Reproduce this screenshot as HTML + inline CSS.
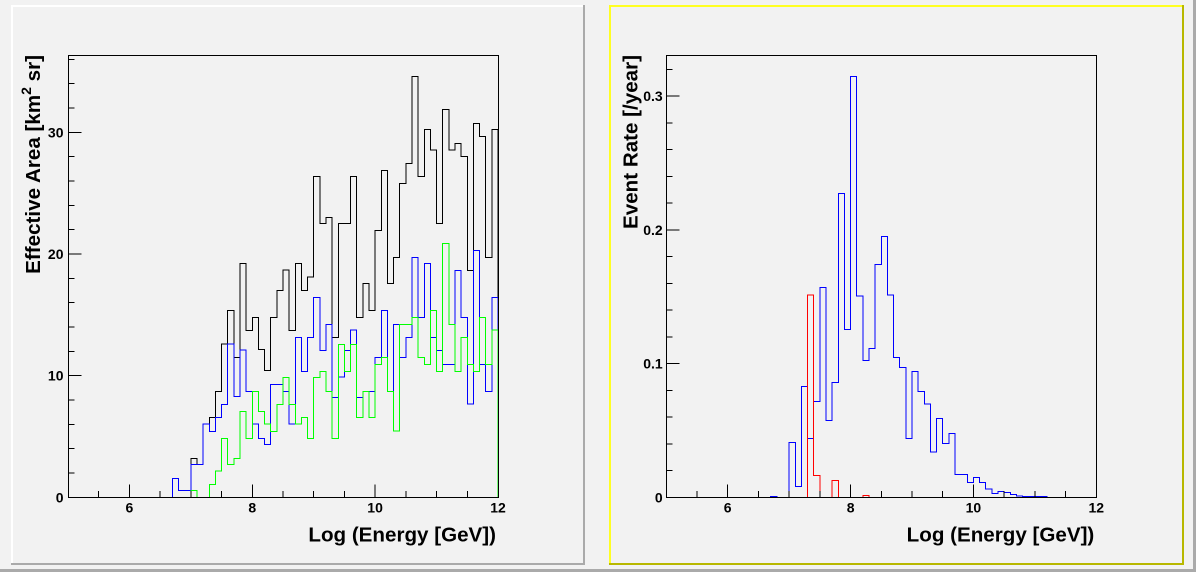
<!DOCTYPE html>
<html>
<head>
<meta charset="utf-8">
<style>
html,body{margin:0;padding:0;background:#f2f2f2;}
svg{display:block;}
text{font-family:"Liberation Sans",Arial,sans-serif;font-weight:bold;fill:#000;}
.tl{font-size:14px;}
.tt{font-size:20.6px;}
</style>
</head>
<body>
<svg width="1196" height="572" viewBox="0 0 1196 572" xmlns="http://www.w3.org/2000/svg">
<rect x="0" y="0" width="1196" height="572" fill="#f2f2f2"/>
<!-- canvas border -->
<rect x="0" y="569" width="1196" height="3" fill="#aaaaaa"/>
<rect x="1193" y="0" width="3" height="572" fill="#aaaaaa"/>

<!-- left pad border -->
<rect x="11" y="5" width="574" height="2" fill="#ffffff"/>
<rect x="11" y="5" width="2" height="560" fill="#ffffff"/>
<rect x="583" y="5" width="2" height="560" fill="#aaaaaa"/>
<rect x="11" y="563" width="574" height="2" fill="#aaaaaa"/>

<!-- right pad border (selected, yellow) -->
<rect x="609" y="5" width="575" height="2" fill="#ffff22"/>
<rect x="609" y="5" width="2" height="560" fill="#ffff22"/>
<rect x="1182" y="5" width="2" height="560" fill="#b8b800"/>
<rect x="609" y="563" width="575" height="2" fill="#b8b800"/>

<g shape-rendering="crispEdges" fill="none" stroke-width="1">
<!-- LEFT histograms -->
<path stroke="#000" d="M68,497.3 H172.4 V478.3 H178.6 V490.7 H190.9 V458.3 H197.0 V464.3 H203.1 V424 H209.3 V417.3 H215.4 V391.3 H221.6 V344 H227.7 V310.3 H233.9 V357.3 H240.0 V263.3 H246.1 V330.3 H252.3 V317.3 H258.4 V349.3 H264.6 V370.3 H270.7 V317.3 H276.9 V290.3 H283.0 V270 H289.1 V330.3 H295.3 V263.3 H301.4 V290.3 H307.6 V277 H313.7 V176.3 H319.9 V223.3 H326.0 V217.3 H332.1 V337.3 H338.3 V223.3 H350.6 V176.3 H356.7 V317.3 H362.9 V283.3 H369.0 V310.3 H375.1 V230.3 H381.3 V170.3 H387.4 V283.3 H393.6 V257.3 H399.7 V183.3 H405.9 V163.3 H412.0 V76.3 H418.1 V176.3 H424.3 V129.3 H430.4 V150 H436.6 V223.3 H442.7 V109.3 H448.9 V150 H455.0 V143.3 H461.1 V156.3 H467.3 V270.3 H473.4 V123.3 H479.6 V136.3 H485.7 V257.3 H491.9 V129.3 H498.0 V497.3"/>
<path stroke="#0000ff" d="M68,497.3 H172.4 V478.3 H178.6 V490.7 H190.9 V464.3 H203.1 V424 H209.3 V431.3 H215.4 V417.3 H221.6 V404.3 H227.7 V344 H233.9 V396.7 H240.0 V350 H246.1 V391.3 H252.3 V424 H258.4 V438.3 H264.6 V444.3 H270.7 V384.3 H283.0 V391.3 H289.1 V424 H295.3 V337.3 H301.4 V371.7 H307.6 V337.3 H313.7 V297.3 H319.9 V350.3 H326.0 V324.3 H332.1 V397.3 H338.3 V377 H344.4 V350.3 H350.6 V330 H356.7 V397.3 H362.9 V391.3 H375.1 V357.3 H381.3 V310.3 H387.4 V391.3 H393.6 V324.3 H399.7 V357.3 H405.9 V337.3 H412.0 V257.3 H418.1 V317.3 H424.3 V263.3 H430.4 V337.3 H436.6 V350.3 H442.7 V364.3 H455.0 V270.3 H461.1 V317.3 H467.3 V404 H473.4 V250.3 H479.6 V364.3 H485.7 V391.3 H491.9 V297.3 H498.0 V497.3"/>
<path stroke="#00ff00" d="M68,497.3 H190.9 V490.7 H197.0 V497.3 H209.3 V484.3 H215.4 V471 H221.6 V438.3 H227.7 V464.3 H233.9 V458.3 H240.0 V411.3 H246.1 V438.3 H252.3 V391.3 H258.4 V411.3 H264.6 V424 H270.7 V431.3 H276.9 V404.3 H283.0 V377.3 H289.1 V404.3 H295.3 V424 H301.4 V417.3 H307.6 V438.3 H313.7 V377.3 H319.9 V371.3 H326.0 V391.3 H332.1 V438.3 H338.3 V344.3 H344.4 V371.3 H350.6 V344.3 H356.7 V417.3 H362.9 V391.3 H369.0 V417.3 H375.1 V364.3 H381.3 V357.3 H387.4 V391.3 H393.6 V431 H399.7 V324.3 H412.0 V317.3 H418.1 V357.3 H424.3 V364.3 H430.4 V310.3 H436.6 V371.3 H442.7 V243.3 H448.9 V324.3 H455.0 V371.3 H461.1 V337.3 H467.3 V364.3 H473.4 V371.3 H479.6 V317.3 H485.7 V364.3 H491.9 V330 H498.0 V497.3"/>

<!-- RIGHT histograms -->
<path stroke="#0000ff" d="M666.3,497.3 H770.7 V496.3 H776.9 V497.3 H789.2 V442.3 H795.3 V486.3 H801.5 V386.3 H807.6 V438.3 H813.7 V401.3 H819.9 V287.3 H826.0 V420.3 H832.2 V382.3 H838.3 V193.3 H844.5 V329.3 H850.6 V76.3 H856.7 V296 H862.9 V360.3 H869.0 V348.3 H875.2 V264.3 H881.3 V236.3 H887.5 V295 H893.6 V357.3 H899.7 V367.3 H905.9 V438.3 H912.0 V371.3 H918.2 V391.3 H924.3 V404 H930.4 V452 H936.6 V418.3 H942.7 V443.3 H948.9 V433.3 H955.0 V474.3 H967.3 V482.3 H973.4 V477.3 H979.6 V482.3 H985.7 V489 H991.9 V493.3 H998.0 V491.3 H1004.1 V492.3 H1010.3 V494.3 H1016.4 V496 H1022.6 V496.6 H1047.1 V497.3 H1096.3"/>
<path stroke="#ff0000" d="M666.3,497.3 H807.6 V295 H813.7 V475.3 H819.9 V497.3 H832.2 V480.3 H838.3 V497.3 H862.9 V495.3 H869.0 V497.3 H1096.3"/>

<!-- frames -->
<rect x="68.5" y="55.5" width="430" height="442" stroke="#000"/>
<rect x="666.5" y="55.5" width="430" height="442" stroke="#000"/>

<!-- LEFT x ticks -->
<path stroke="#000" d="M98.7,497.5v-6.5 M129.4,497.5v-13 M160.1,497.5v-6.5 M190.9,497.5v-6.5 M221.6,497.5v-6.5 M252.3,497.5v-13 M283.0,497.5v-6.5 M313.7,497.5v-6.5 M344.4,497.5v-6.5 M375.1,497.5v-13 M405.9,497.5v-6.5 M436.6,497.5v-6.5 M467.3,497.5v-6.5"/>
<!-- LEFT y ticks -->
<path stroke="#000" d="M68.5,473.0h6 M68.5,448.6h6 M68.5,424.3h6 M68.5,400.0h6 M68.5,375.6h13 M68.5,351.3h6 M68.5,327.0h6 M68.5,302.6h6 M68.5,278.3h6 M68.5,254.0h13 M68.5,229.6h6 M68.5,205.3h6 M68.5,181.0h6 M68.5,156.6h6 M68.5,132.3h13 M68.5,108.0h6 M68.5,83.6h6 M68.5,59.3h6"/>

<!-- RIGHT x ticks -->
<path stroke="#000" d="M697.0,497.5v-6.5 M727.7,497.5v-13 M758.4,497.5v-6.5 M789.2,497.5v-6.5 M819.9,497.5v-6.5 M850.6,497.5v-13 M881.3,497.5v-6.5 M912.0,497.5v-6.5 M942.7,497.5v-6.5 M973.4,497.5v-13 M1004.1,497.5v-6.5 M1034.9,497.5v-6.5 M1065.6,497.5v-6.5"/>
<!-- RIGHT y ticks -->
<path stroke="#000" d="M666.5,470.6h6 M666.5,443.8h6 M666.5,417.1h6 M666.5,390.3h6 M666.5,363.6h13 M666.5,336.9h6 M666.5,310.1h6 M666.5,283.4h6 M666.5,256.7h6 M666.5,229.9h13 M666.5,203.2h6 M666.5,176.4h6 M666.5,149.7h6 M666.5,123.0h6 M666.5,96.2h13 M666.5,69.5h6"/>
</g>

<!-- LEFT tick labels -->
<g class="tl">
<text x="129.4" y="512.5" text-anchor="middle" class="tl">6</text>
<text x="252.3" y="512.5" text-anchor="middle" class="tl">8</text>
<text x="375.1" y="512.5" text-anchor="middle" class="tl">10</text>
<text x="498" y="512.5" text-anchor="middle" class="tl">12</text>
<text x="63.5" y="502.3" text-anchor="end" class="tl">0</text>
<text x="63.5" y="380.6" text-anchor="end" class="tl">10</text>
<text x="63.5" y="259" text-anchor="end" class="tl">20</text>
<text x="63.5" y="137.3" text-anchor="end" class="tl">30</text>

<text x="727.7" y="512.5" text-anchor="middle" class="tl">6</text>
<text x="850.6" y="512.5" text-anchor="middle" class="tl">8</text>
<text x="973.4" y="512.5" text-anchor="middle" class="tl">10</text>
<text x="1096.3" y="512.5" text-anchor="middle" class="tl">12</text>
<text x="662.7" y="502.3" text-anchor="end" class="tl">0</text>
<text x="662.7" y="368.6" text-anchor="end" class="tl">0.1</text>
<text x="662.7" y="234.9" text-anchor="end" class="tl">0.2</text>
<text x="662.7" y="101.2" text-anchor="end" class="tl">0.3</text>
</g>

<!-- axis titles -->
<text x="496" y="541.7" text-anchor="end" class="tt">Log (Energy [GeV])</text>
<text x="1094.3" y="541.7" text-anchor="end" class="tt">Log (Energy [GeV])</text>
<text transform="translate(40,55) rotate(-90)" text-anchor="end" class="tt">Effective Area [km<tspan font-size="14" dy="-9">2</tspan><tspan dy="9"> sr]</tspan></text>
<text transform="translate(637.5,55) rotate(-90)" text-anchor="end" class="tt">Event Rate [/year]</text>
</svg>
</body>
</html>
